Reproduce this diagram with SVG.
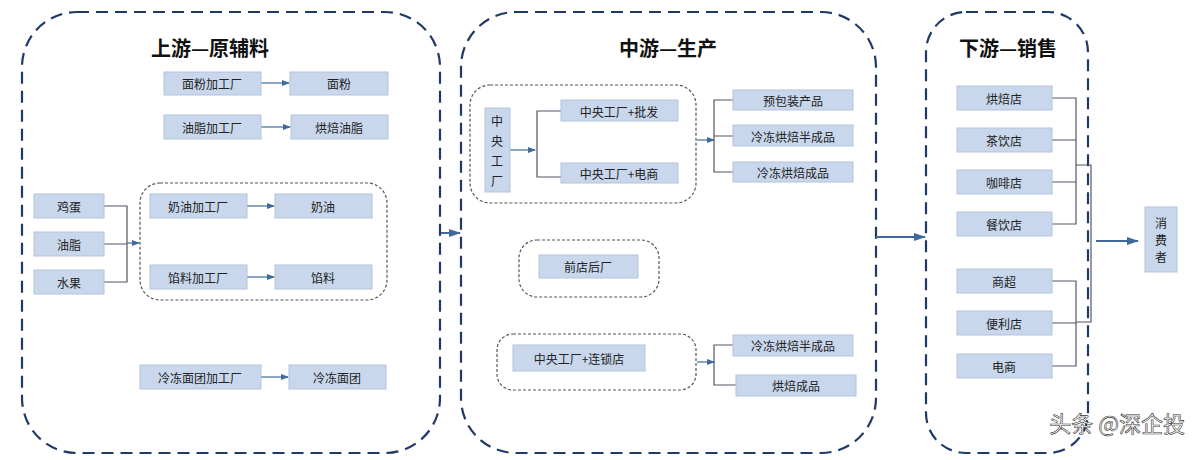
<svg xmlns="http://www.w3.org/2000/svg" width="1200" height="460" viewBox="0 0 1200 460">
<defs>
<marker id="a" markerWidth="8" markerHeight="8" refX="7" refY="4" orient="auto" markerUnits="userSpaceOnUse"><path d="M0,1 L8,4 L0,7 Z" fill="#3f6a9a"/></marker>
<marker id="b" markerWidth="12" markerHeight="10" refX="11" refY="5" orient="auto" markerUnits="userSpaceOnUse"><path d="M0,1 L12,5 L0,9 Z" fill="#3f6a9a"/></marker>
</defs>
<style>
.panel{fill:none;stroke:#1f3a66;stroke-width:2.2;stroke-dasharray:12 7}
.inner{fill:none;stroke:#555;stroke-width:1.2;stroke-dasharray:3 2}
.box{fill:#c8d7ec;stroke:#b3c4dc;stroke-width:1}
.t{font-family:"Noto Sans CJK SC","Noto Serif CJK SC",sans-serif;font-size:12px;fill:#222;text-anchor:middle;dominant-baseline:central}
.h{font-family:"Noto Sans CJK SC",sans-serif;font-size:20px;font-weight:bold;fill:#111;text-anchor:middle;dominant-baseline:central}
.c{fill:none;stroke:#556;stroke-width:1.2}
.ca{fill:none;stroke:#3f6a9a;stroke-width:1.2}
.cb{fill:none;stroke:#3f6a9a;stroke-width:2}
</style>
<rect width="1200" height="460" fill="#fff"/>
<g id="panels">
<rect class="panel" x="22" y="12" width="418" height="441" rx="55"/>
<rect class="panel" x="461" y="12" width="415" height="441" rx="55"/>
<rect class="panel" x="926" y="12" width="162" height="441" rx="40"/>
<text class="h" x="210" y="47">上游—原辅料</text>
<text class="h" x="668" y="47">中游—生产</text>
<text class="h" x="1008" y="47">下游—销售</text>
<rect class="inner" x="140" y="183" width="247" height="117" rx="20"/>
<rect class="inner" x="470" y="85" width="226" height="118" rx="20"/>
<rect class="inner" x="519" y="240" width="140" height="57" rx="18"/>
<rect class="inner" x="497" y="334" width="199" height="56" rx="16"/>
</g>
<g id="connectors">
<path class="ca" d="M261,83 H289" marker-end="url(#a)"/>
<path class="ca" d="M261,127 H290" marker-end="url(#a)"/>
<path class="ca" d="M247,206 H274" marker-end="url(#a)"/>
<path class="ca" d="M247,277 H274" marker-end="url(#a)"/>
<path class="ca" d="M261,377 H288" marker-end="url(#a)"/>
<path class="c" d="M104,206 H127 V282 H104 M104,244 H127"/>
<path class="ca" d="M127,243 H139" marker-end="url(#a)"/>
<path class="cb" d="M441,233 H460" marker-end="url(#b)"/>
<path class="ca" d="M510,150 H535" marker-end="url(#a)"/>
<path class="c" d="M561,111 H537 V177 H561"/>
<path class="ca" d="M697,140 H714" marker-end="url(#a)"/>
<path class="c" d="M733,100 H714 V172 H733 M714,136 H733"/>
<path class="ca" d="M697,362 H714" marker-end="url(#a)"/>
<path class="c" d="M733,345 H714 V385 H736"/>
<path class="cb" d="M876,237 H925" marker-end="url(#b)"/>
<path class="c" d="M1052,98 H1076 V224 H1052 M1052,140 H1076 M1052,182 H1076 M1076,165 H1091 V322 H1076 M1052,281 H1076 V366 H1052 M1052,323 H1076"/>
<path class="cb" d="M1096,241 H1138" marker-end="url(#b)"/>
</g>
<g id="n1"><rect class="box" x="164" y="72" width="97" height="23"/><text class="t" x="212" y="83">面粉加工厂</text></g>
<g id="n2"><rect class="box" x="290" y="72" width="98" height="23"/><text class="t" x="339" y="83">面粉</text></g>
<g id="n3"><rect class="box" x="164" y="115" width="97" height="24"/><text class="t" x="212" y="127">油脂加工厂</text></g>
<g id="n4"><rect class="box" x="291" y="115" width="97" height="24"/><text class="t" x="339" y="127">烘焙油脂</text></g>
<g id="n5"><rect class="box" x="34" y="194" width="70" height="24"/><text class="t" x="69" y="206">鸡蛋</text></g>
<g id="n6"><rect class="box" x="34" y="232" width="70" height="24"/><text class="t" x="69" y="244">油脂</text></g>
<g id="n7"><rect class="box" x="34" y="270" width="70" height="24"/><text class="t" x="69" y="282">水果</text></g>
<g id="n8"><rect class="box" x="150" y="194" width="97" height="24"/><text class="t" x="198" y="206">奶油加工厂</text></g>
<g id="n9"><rect class="box" x="275" y="194" width="97" height="24"/><text class="t" x="323" y="206">奶油</text></g>
<g id="n10"><rect class="box" x="150" y="265" width="97" height="24"/><text class="t" x="198" y="277">馅料加工厂</text></g>
<g id="n11"><rect class="box" x="275" y="265" width="97" height="24"/><text class="t" x="323" y="277">馅料</text></g>
<g id="n12"><rect class="box" x="140" y="365" width="121" height="24"/><text class="t" x="200" y="377">冷冻面团加工厂</text></g>
<g id="n13"><rect class="box" x="289" y="365" width="97" height="24"/><text class="t" x="337" y="377">冷冻面团</text></g>
<g id="n14"><rect class="box" x="485" y="108" width="25" height="84"/>
<text class="t" x="497" y="120">中</text><text class="t" x="497" y="140">央</text><text class="t" x="497" y="160">工</text><text class="t" x="497" y="180">厂</text></g>
<g id="n15"><rect class="box" x="561" y="100" width="117" height="21"/><text class="t" x="619" y="111">中央工厂+批发</text></g>
<g id="n16"><rect class="box" x="561" y="163" width="117" height="20"/><text class="t" x="619" y="173">中央工厂+电商</text></g>
<g id="n17"><rect class="box" x="733" y="90" width="120" height="20"/><text class="t" x="793" y="100">预包装产品</text></g>
<g id="n18"><rect class="box" x="733" y="125" width="120" height="21"/><text class="t" x="793" y="136">冷冻烘焙半成品</text></g>
<g id="n19"><rect class="box" x="733" y="162" width="120" height="20"/><text class="t" x="793" y="172">冷冻烘焙成品</text></g>
<g id="n20"><rect class="box" x="539" y="255" width="99" height="23"/><text class="t" x="588" y="266">前店后厂</text></g>
<g id="n21"><rect class="box" x="513" y="345" width="132" height="26"/><text class="t" x="579" y="358">中央工厂+连锁店</text></g>
<g id="n22"><rect class="box" x="733" y="335" width="120" height="21"/><text class="t" x="793" y="345">冷冻烘焙半成品</text></g>
<g id="n23"><rect class="box" x="736" y="375" width="120" height="21"/><text class="t" x="796" y="385">烘焙成品</text></g>
<g id="n24"><rect class="box" x="957" y="86" width="95" height="24"/><text class="t" x="1004" y="98">烘焙店</text></g>
<g id="n25"><rect class="box" x="957" y="128" width="95" height="24"/><text class="t" x="1004" y="140">茶饮店</text></g>
<g id="n26"><rect class="box" x="957" y="170" width="95" height="24"/><text class="t" x="1004" y="182">咖啡店</text></g>
<g id="n27"><rect class="box" x="957" y="212" width="95" height="24"/><text class="t" x="1004" y="224">餐饮店</text></g>
<g id="n28"><rect class="box" x="957" y="269" width="95" height="24"/><text class="t" x="1004" y="281">商超</text></g>
<g id="n29"><rect class="box" x="957" y="311" width="95" height="24"/><text class="t" x="1004" y="323">便利店</text></g>
<g id="n30"><rect class="box" x="957" y="354" width="95" height="24"/><text class="t" x="1004" y="366">电商</text></g>
<g id="n31"><rect class="box" x="1145" y="207" width="32" height="65"/>
<text class="t" x="1161" y="222">消</text><text class="t" x="1161" y="239">费</text><text class="t" x="1161" y="256">者</text></g>
<text x="1185" y="432" font-family="Noto Sans CJK SC,sans-serif" font-size="22" fill="#fff" stroke="#333" stroke-width="0.6" text-anchor="end">头条 @深企投</text>
</svg>
